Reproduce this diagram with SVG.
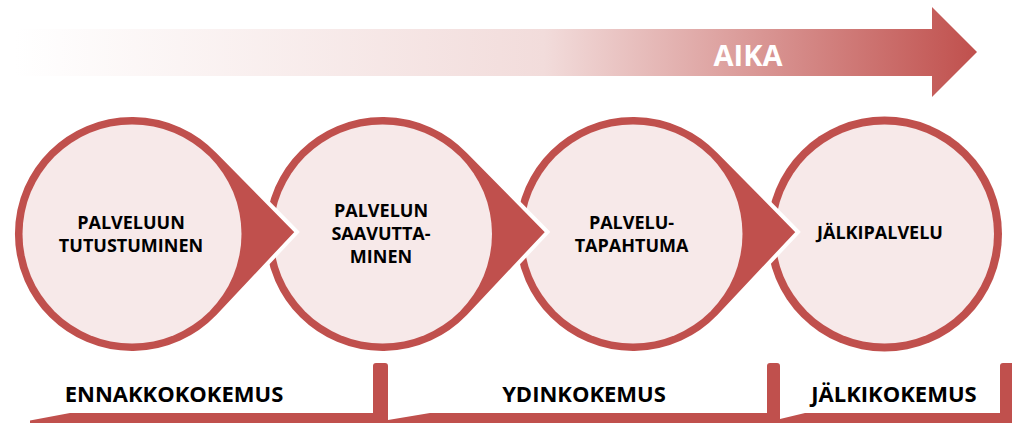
<svg xmlns="http://www.w3.org/2000/svg" xmlns:xlink="http://www.w3.org/1999/xlink" width="1012" height="423" viewBox="0 0 1012 423">
  <style>
    .drop { fill: #C0504D; stroke: #FFFFFF; stroke-width: 4; stroke-linejoin: miter; }
    .ring { fill: #C0504D; }
    .inner { fill: #F7E9E9; }
    .label { font-family: "Open Sans", "Liberation Sans", sans-serif; font-weight: 700; font-size: 18px; fill: #000000; text-anchor: middle; }
    .phase { font-family: "Open Sans", "Liberation Sans", sans-serif; font-weight: 700; font-size: 22px; fill: #000000; text-anchor: middle; }
    .time { font-family: "Open Sans", "Liberation Sans", sans-serif; font-weight: 700; font-size: 29px; fill: #FFFFFF; text-anchor: middle; }
    .bracket { fill: #C0504D; }
  </style>
  <defs>
    <linearGradient id="timeGrad" gradientUnits="userSpaceOnUse" x1="15" y1="0" x2="977" y2="0">
      <stop offset="0" stop-color="#FFFFFF"/>
      <stop offset="0.55" stop-color="#F2DCDB"/>
      <stop offset="1" stop-color="#C0504D"/>
    </linearGradient>
    <!-- circle with a pointed tip on the right, centred on the origin -->
    <path id="drop" d="M 165 -2 L 85.8 -82.4 A 119 119 0 1 0 85.8 82.4 Z"/>
  </defs>

  <!-- time arrow -->
  <g id="time-arrow">
    <path d="M 15 29 L 932 29 L 932 7 L 977 52 L 932 97 L 932 76 L 15 76 Z" fill="url(#timeGrad)"/>
    <text class="time" x="748" y="66">AIKA</text>
  </g>

  <!-- process steps, drawn last-to-first so each tip overlaps the next circle -->
  <g id="step4" transform="translate(884.5,234)">
    <circle class="ring" r="117.5"/>
    <circle class="inner" r="109.5"/>
    <text class="label" x="-4.5" y="5.3">JÄLKIPALVELU</text>
  </g>
  <g id="step3" transform="translate(633,234)">
    <use xlink:href="#drop" class="drop"/>
    <circle class="inner" r="109.5"/>
    <text class="label" x="-1.5" y="-4.7">PALVELU-</text>
    <text class="label" x="-1.5" y="17.7">TAPAHTUMA</text>
  </g>
  <g id="step2" transform="translate(382.5,234)">
    <use xlink:href="#drop" class="drop"/>
    <circle class="inner" r="109.5"/>
    <text class="label" x="-1.5" y="-17">PALVELUN</text>
    <text class="label" x="-1.5" y="6">SAAVUTTA-</text>
    <text class="label" x="-1.5" y="29">MINEN</text>
  </g>
  <g id="step1" transform="translate(132,234)">
    <use xlink:href="#drop" class="drop"/>
    <circle class="inner" r="109.5"/>
    <text class="label" x="-1" y="-5">PALVELUUN</text>
    <text class="label" x="-1" y="17.7">TUTUSTUMINEN</text>
  </g>

  <!-- experience phases with bottom brackets -->
  <g id="phases">
    <path class="bracket" d="M 30 423 L 30 420.5 L 70 413 L 373 413 L 373 366 Q 373 363 376 363 L 385 363 Q 388 363 388 366 L 388 423 Z"/>
    <path class="bracket" d="M 388 423 L 388 420 L 430 413 L 767 413 L 767 366 Q 767 363 770 363 L 777 363 Q 780 363 780 366 L 780 423 Z"/>
    <path class="bracket" d="M 780 423 L 780 419 L 805 413 L 1000 413 L 1000 366 Q 1000 363 1003 363 L 1012 363 L 1012 423 Z"/>
    <text class="phase" x="174" y="402">ENNAKKOKOKEMUS</text>
    <text class="phase" x="584" y="402">YDINKOKEMUS</text>
    <text class="phase" x="894" y="402">JÄLKIKOKEMUS</text>
  </g>
</svg>
